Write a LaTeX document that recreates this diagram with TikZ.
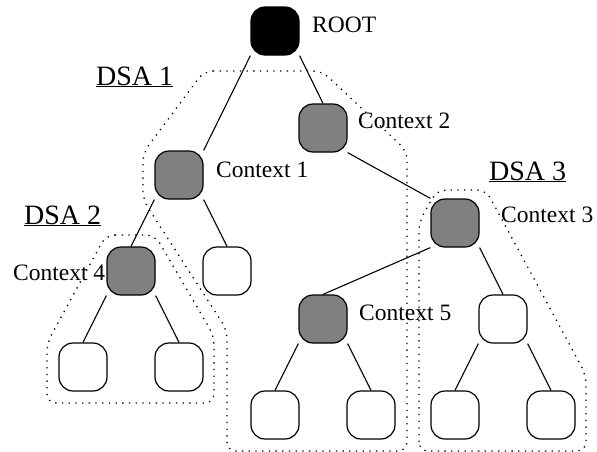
\documentclass[tikz,border=0pt]{standalone}
\usepackage{fontspec}
\setmainfont{Liberation Serif}
\begin{document}
\begin{tikzpicture}[x=1pt,y=-1pt,
  box/.style={draw=black,line width=1.2pt,rounded corners=14pt,minimum width=48pt,minimum height=48pt,inner sep=0pt},
  rootbox/.style={box,fill=black},
  ctxbox/.style={box,fill=black!50},
  leafbox/.style={box,fill=white},
  edge/.style={line width=1.1pt},
  region/.style={line width=1.3pt,dash pattern=on 1.3pt off 5.4pt,rounded corners=9pt},
  lbl/.style={anchor=base west,inner sep=0pt,font=\fontsize{23.5}{28}\selectfont},
  dsa/.style={anchor=base west,inner sep=0pt,font=\fontsize{28}{32}\selectfont}]
\useasboundingbox (0,0) rectangle (597,451);

% dotted outlines of the three DSA regions (the lower two run off the bottom edge)
\draw[region] (204,71) -- (322,71) -- (407,151) -- (407,451)
  -- (227,451) -- (227,330) -- (143,200) -- (143,153) -- cycle;
\draw[region] (106,235) -- (155,235) -- (214,336) -- (214,403) -- (47,403) -- (47,343) -- cycle;
\draw[region] (419,451) -- (419,222) -- (437,190) -- (486,190) -- (586,375) -- (586,451) -- cycle;

% tree nodes
\node[rootbox] (root) at (275,31) {};
\node[ctxbox] (c2) at (323,128) {};
\node[ctxbox] (c1) at (179,175) {};
\node[ctxbox] (c3) at (455,223) {};
\node[ctxbox] (c4) at (131,271) {};
\node[leafbox] (l1) at (227,271) {};
\node[ctxbox] (c5) at (323,319) {};
\node[leafbox] (r5) at (503,319) {};
\node[leafbox] (a1) at (83,367) {};
\node[leafbox] (a2) at (179,367) {};
\node[leafbox] (b1) at (275,415) {};
\node[leafbox] (b2) at (371,415) {};
\node[leafbox] (b3) at (455,415) {};
\node[leafbox] (b4) at (551,415) {};

% connectors
\draw[edge] (root.south west) -- (c1.north east);
\draw[edge] (root.south east) -- (c2.north);
\draw[edge] (c2.south east) -- (c3.north west);
\draw[edge] (c1.south west) -- (c4.north);
\draw[edge] (c1.south east) -- (l1.north);
\draw[edge] (c4.south west) -- (a1.north);
\draw[edge] (c4.south east) -- (a2.north);
\draw[edge] (c3.south west) -- (c5.north);
\draw[edge] (c3.south east) -- (r5.north);
\draw[edge] (c5.south west) -- (b1.north);
\draw[edge] (c5.south east) -- (b2.north);
\draw[edge] (r5.south west) -- (b3.north);
\draw[edge] (r5.south east) -- (b4.north);

% labels
\node[lbl] (troot) at (312,32) {ROOT};
\node[lbl] (t1) at (216,177) {Context 1};
\node[lbl] (t2) at (358,128) {Context 2};
\node[lbl] (t3) at (501,222) {Context 3};
\node[lbl] (t4) at (13,280) {Context 4};
\node[lbl] (t5) at (359,320) {Context 5};
\node[dsa] (d1) at (96,85) {\underline{DSA 1}};
\node[dsa] (d2) at (24,224) {\underline{DSA 2}};
\node[dsa] (d3) at (489,180) {\underline{DSA 3}};
\end{tikzpicture}
\end{document}
